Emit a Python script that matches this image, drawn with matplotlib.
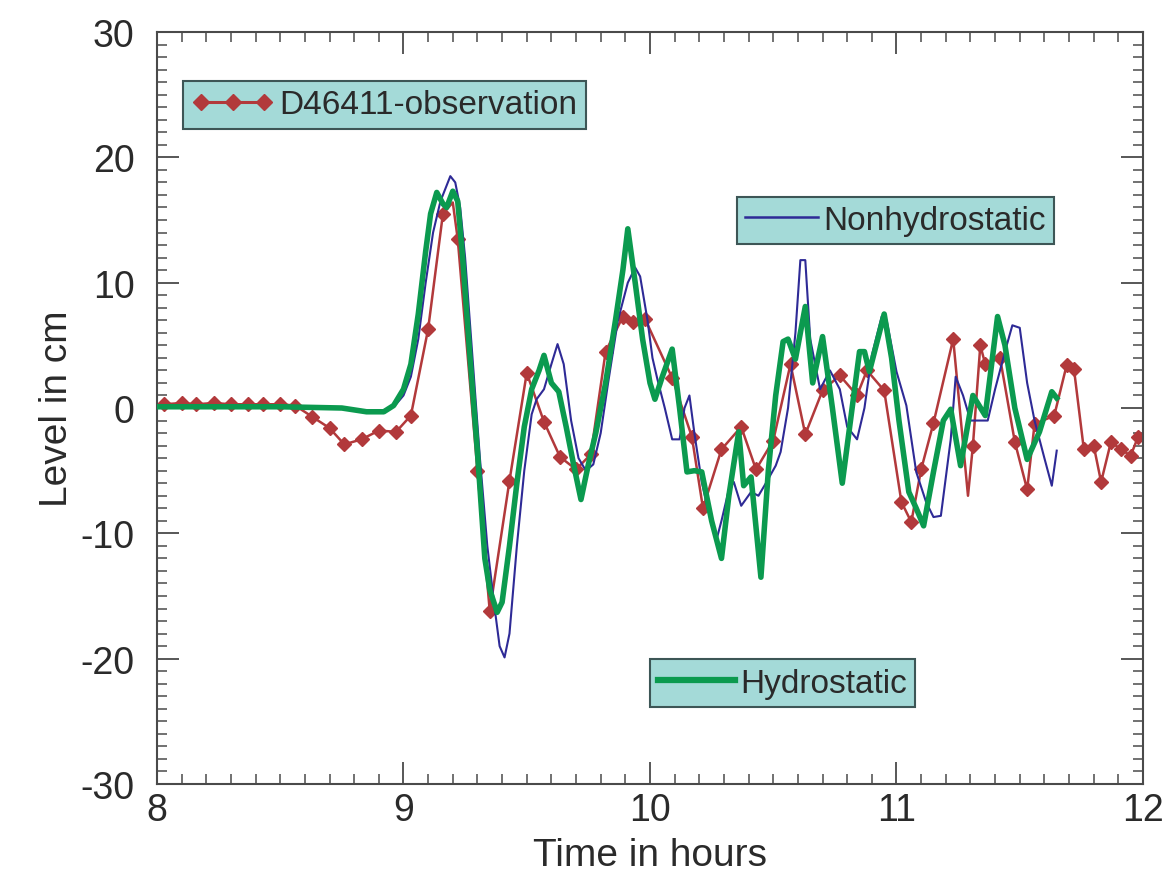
import matplotlib
matplotlib.use("Agg")
import matplotlib.pyplot as plt
from matplotlib.lines import Line2D
from matplotlib.ticker import MultipleLocator

plt.rcParams['font.family'] = ['Liberation Sans', 'DejaVu Sans']
plt.rcParams['axes.unicode_minus'] = False

# ---------------- data ----------------
obs_t = [8.00, 8.03, 8.10, 8.16, 8.23, 8.30, 8.37, 8.43, 8.50, 8.56, 8.63, 8.70, 8.76,
         8.83, 8.90, 8.97, 9.03, 9.10, 9.16, 9.20, 9.22, 9.30, 9.35, 9.43, 9.50, 9.57,
         9.635, 9.70, 9.76, 9.82, 9.89, 9.93, 9.98, 10.09, 10.17, 10.215, 10.29, 10.37,
         10.43, 10.50, 10.57, 10.63, 10.70, 10.77, 10.84, 10.88, 10.95, 11.02, 11.06,
         11.10, 11.15, 11.23, 11.29, 11.31, 11.34, 11.36, 11.42, 11.48, 11.53, 11.56,
         11.64, 11.69, 11.72, 11.76, 11.80, 11.83, 11.87, 11.91, 11.95, 11.98, 12.00]
obs_v = [0.2, 0.3, 0.4, 0.3, 0.4, 0.3, 0.3, 0.3, 0.3, 0.2, -0.7, -1.6, -2.9,
         -2.5, -1.8, -1.9, -0.6, 6.3, 15.5, 16.4, 13.5, -5.0, -16.2, -5.8, 2.8, -1.1,
         -3.9, -4.9, -3.7, 4.5, 7.3, 6.9, 7.1, 2.4, -2.3, -8.0, -3.3, -1.5,
         -4.9, -2.6, 3.5, -2.1, 1.4, 2.6, 1.0, 3.0, 1.4, -7.5, -9.1,
         -4.9, -1.2, 5.5, -7.0, -3.0, 5.0, 3.5, 4.0, -2.7, -6.5, -1.3,
         -0.6, 3.4, 3.1, -3.3, -3.0, -5.9, -2.7, -3.3, -3.8, -2.3, -2.6]
obs_nomark = [0, 19, 52, 70]

nh_t = [8.00, 8.50, 8.75, 8.85, 8.92, 8.97, 9.00, 9.03, 9.06, 9.09, 9.12, 9.15, 9.17,
        9.19, 9.21, 9.23, 9.25, 9.28, 9.31, 9.34, 9.37, 9.39, 9.41, 9.43, 9.46, 9.49,
        9.52, 9.54, 9.57, 9.60, 9.625, 9.65, 9.68, 9.71, 9.74, 9.77, 9.80, 9.83, 9.87,
        9.91, 9.94, 9.96, 9.99, 10.01, 10.03, 10.06, 10.09, 10.12, 10.14, 10.16, 10.18,
        10.21, 10.24, 10.27, 10.29, 10.32, 10.34, 10.37, 10.41, 10.44, 10.47, 10.51,
        10.53, 10.56, 10.59, 10.61, 10.63, 10.65, 10.69, 10.73, 10.77, 10.80, 10.84,
        10.87, 10.90, 10.94, 10.96, 11.00, 11.04, 11.08, 11.12, 11.15, 11.18, 11.22,
        11.24, 11.27, 11.30, 11.34, 11.37, 11.40, 11.44, 11.47, 11.50, 11.53, 11.56,
        11.60, 11.63, 11.65]
nh_v = [0.1, 0.1, 0.0, -0.2, -0.2, 0.3, 1.0, 2.5, 5.5, 10.0, 14.0, 16.5, 17.5,
        18.5, 18.0, 16.0, 12.0, 4.0, -4.0, -11.0, -16.0, -19.0, -19.9, -18.0, -11.0, -5.0,
        -0.5, 0.7, 1.5, 3.5, 5.1, 3.5, -1.0, -4.0, -5.0, -4.5, -2.0, 2.0, 7.0,
        10.0, 11.2, 10.5, 7.0, 4.0, 2.3, 0.0, -2.5, -2.5, 0.0, 1.0, -2.0,
        -5.9, -8.5, -10.5, -9.0, -6.5, -5.9, -7.8, -6.7, -7.0, -6.0, -4.6,
        -3.5, 0.0, 6.0, 11.8, 11.8, 5.5, 1.5, 3.0, 1.5, -1.5, -2.5,
        0.0, 4.2, 7.3, 7.0, 2.9, 0.2, -5.1, -7.5, -8.7, -8.6, -2.5,
        2.5, 1.0, -1.0, -1.0, -1.0, 1.5, 4.5, 6.6, 6.4, 2.0, -1.0,
        -4.0, -6.2, -3.4]

hy_t = [8.00, 8.50, 8.75, 8.85, 8.92, 8.96, 9.00, 9.03, 9.06, 9.09, 9.11, 9.135, 9.16,
        9.175, 9.20, 9.22, 9.24, 9.27, 9.30, 9.33, 9.35, 9.38, 9.40, 9.43, 9.46, 9.49,
        9.52, 9.55, 9.57, 9.60, 9.63, 9.66, 9.69, 9.72, 9.75, 9.78, 9.82, 9.86, 9.89,
        9.91, 9.94, 9.97, 10.00, 10.02, 10.05, 10.09, 10.12, 10.15, 10.18, 10.21, 10.25,
        10.29, 10.32, 10.36, 10.38, 10.41, 10.45, 10.48, 10.51, 10.54, 10.56, 10.59,
        10.63, 10.66, 10.70, 10.74, 10.78, 10.82, 10.85, 10.87, 10.89, 10.95, 10.98,
        11.01, 11.05, 11.08, 11.11, 11.15, 11.19, 11.22, 11.26, 11.31, 11.36, 11.41,
        11.44, 11.48, 11.53, 11.58, 11.63, 11.65]
hy_v = [0.1, 0.1, 0.0, -0.3, -0.3, 0.2, 1.5, 3.5, 7.5, 12.5, 15.5, 17.2, 16.3,
        16.0, 17.3, 16.5, 12.0, 4.0, -3.5, -12.0, -14.5, -16.3, -15.5, -11.0, -6.0, -1.5,
        1.5, 3.0, 4.2, 2.0, 1.3, -1.5, -4.5, -7.3, -4.5, -2.0, 2.0, 7.0, 11.0,
        14.3, 10.0, 5.5, 2.0, 0.7, 2.5, 4.7, 0.0, -5.1, -5.0, -5.1, -9.0,
        -12.0, -7.0, -1.9, -6.2, -5.5, -13.5, -5.0, 1.0, 5.3, 5.5, 3.9,
        8.1, 2.0, 5.7, 0.0, -6.0, 0.0, 4.5, 4.5, 2.9, 7.5, 4.0,
        -1.0, -6.7, -8.0, -9.4, -5.1, -1.0, -0.1, -4.6, 1.0, -0.6, 7.3,
        5.0, 0.0, -4.1, -1.9, 1.3, 0.8]

obs_label = "D46411-observation"
nh_label = "Nonhydrostatic"
hy_label = "Hydrostatic"

# ---------------- styles ----------------
RED = '#b2393b'
BLUE = '#2e2a96'
GREEN = '#0b9a4f'
BOXFACE = '#a4dad8'
BOXEDGE = '#3d5656'
TXT = '#2a2a2a'
AXC = '#4a4a4a'

fig = plt.figure(figsize=(11.68, 8.78), dpi=100)
ax = fig.add_axes([0.1344, 0.1059, 0.8442, 0.8565])

mark_idx = [i for i in range(len(obs_t)) if i not in obs_nomark]
ax.plot(obs_t, obs_v, color=RED, lw=1.8, marker='D', ms=7.5, markevery=mark_idx,
        mec=RED, mfc=RED, zorder=2)
ax.plot(nh_t, nh_v, color=BLUE, lw=1.5, zorder=3)
ax.plot(hy_t, hy_v, color=GREEN, lw=4.0, zorder=4)

ax.set_xlim(8, 12)
ax.set_ylim(-30, 30)
ax.xaxis.set_major_locator(MultipleLocator(1))
ax.xaxis.set_minor_locator(MultipleLocator(0.1))
ax.yaxis.set_major_locator(MultipleLocator(10))
ax.yaxis.set_minor_locator(MultipleLocator(1))
ax.tick_params(which='both', direction='in', top=True, right=True, colors=AXC,
               labelcolor=TXT, labelsize=27)
ax.tick_params(which='major', length=16, width=1.3)
ax.tick_params(which='minor', length=7.5, width=1.1)
ax.tick_params(axis='x', pad=6)
ax.tick_params(axis='y', pad=16)
for s in ax.spines.values():
    s.set_color(AXC)
    s.set_linewidth(1.5)

ax.set_xlabel("Time in hours", fontsize=28, color=TXT, labelpad=6)
ax.set_ylabel("Level in cm", fontsize=28, color=TXT, labelpad=4)

common = dict(frameon=True, fancybox=False, framealpha=1.0, facecolor=BOXFACE,
              edgecolor=BOXEDGE, fontsize=24, borderaxespad=0, borderpad=0.25,
              handletextpad=0.15, labelcolor=TXT, loc='upper left')

h1 = Line2D([], [], color=RED, lw=2.2, marker='D', ms=8)
leg1 = ax.legend([h1], [obs_label], bbox_to_anchor=(0.026, 0.935), numpoints=3,
                 handlelength=2.5, **common)
leg1.get_frame().set_linewidth(1.5)
ax.add_artist(leg1)

h2 = Line2D([], [], color=BLUE, lw=1.8)
leg2 = ax.legend([h2], [nh_label], bbox_to_anchor=(0.588, 0.781),
                 handlelength=2.2, **common)
leg2.get_frame().set_linewidth(1.5)
ax.add_artist(leg2)

h3 = Line2D([], [], color=GREEN, lw=4.5)
leg3 = ax.legend([h3], [hy_label], bbox_to_anchor=(0.500, 0.166),
                 handlelength=2.3, **common)
leg3.get_frame().set_linewidth(1.5)

fig.savefig("out.png", dpi=100)
